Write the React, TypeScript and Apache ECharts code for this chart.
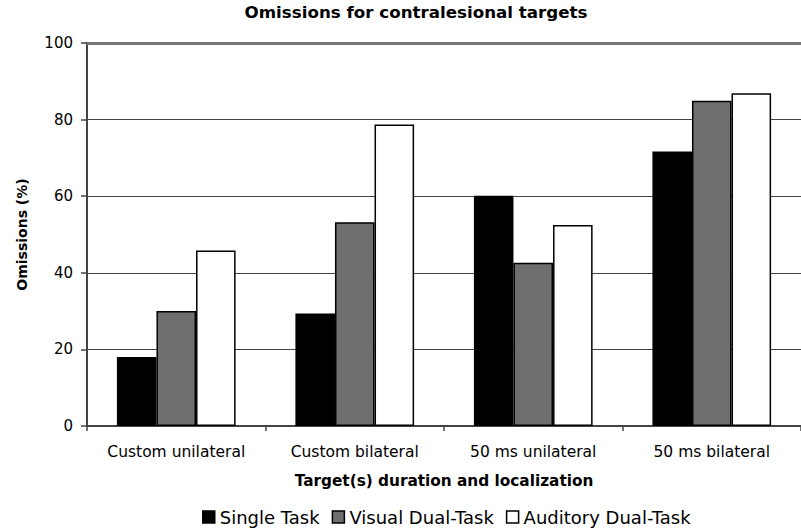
import React, { useEffect, useRef } from "react";
import * as echarts from "echarts";

const categories = ["Custom unilateral", "Custom bilateral", "50 ms unilateral", "50 ms bilateral"];
const seriesNames = ["Single Task", "Visual Dual-Task", "Auditory Dual-Task"];
const singleTask = [18, 29.4, 60.1, 71.7];
const visualDual = [30, 53.2, 42.6, 84.9];
const auditoryDual = [45.8, 78.7, 52.5, 86.9];
const yTicks = { min: 0, max: 100, interval: 20 };
const colors = ["#000000", "#6e6e6e", "#ffffff"];

const FONT = "DejaVu Sans";

export default function App() {
  const ref = useRef<HTMLDivElement>(null);
  useEffect(() => {
    if (!ref.current) return;
    const chart = echarts.init(ref.current, undefined, { renderer: "svg" });
    const values = [singleTask, visualDual, auditoryDual];
    chart.setOption({
      animation: false,
      backgroundColor: "#ffffff",
      textStyle: { fontFamily: FONT },
      graphic: [
        {
          type: "text",
          x: 416,
          y: 12,
          style: {
            text: "Omissions for contralesional targets",
            fontFamily: FONT,
            fontWeight: "bold",
            fontSize: 16.7,
            fill: "#000",
            textAlign: "center",
            textVerticalAlign: "middle",
          },
        },
      ],
      legend: {
        top: 508,
        left: 202,
        padding: 0,
        itemWidth: 12,
        itemHeight: 12,
        itemGap: 12,
        textStyle: { fontFamily: FONT, fontSize: 18, color: "#000" },
        data: seriesNames.map((n) => ({ name: n, icon: "rect", itemStyle: { borderColor: "#000", borderWidth: 1.5 } })),
      },
      grid: { left: 87, top: 43, right: -8, bottom: 105, containLabel: false },
      xAxis: [
        {
          type: "category",
          data: categories,
          name: "Target(s) duration and localization",
          nameLocation: "middle",
          nameGap: 47,
          nameTextStyle: { fontFamily: FONT, fontWeight: "bold", fontSize: 15.3, color: "#000" },
          axisLine: { lineStyle: { color: "#444", width: 2 } },
          axisTick: { show: true, length: 5, lineStyle: { color: "#444", width: 1.5 }, alignWithLabel: false },
          axisLabel: { fontFamily: FONT, fontSize: 15.5, color: "#000", margin: 18, interval: 0, hideOverlap: false },
          splitLine: { show: false },
        },
        {
          type: "category",
          position: "top",
          data: categories,
          axisLine: { lineStyle: { color: "#777", width: 3 } },
          axisTick: { show: false },
          axisLabel: { show: false },
        },
      ],
      yAxis: {
        type: "value",
        min: yTicks.min,
        max: yTicks.max,
        interval: yTicks.interval,
        name: "Omissions (%)",
        nameLocation: "middle",
        nameGap: 58,
        nameTextStyle: { fontFamily: FONT, fontWeight: "bold", fontSize: 14, color: "#000" },
        axisLine: { show: true, lineStyle: { color: "#444", width: 2 } },
        axisTick: { show: true, length: 6, lineStyle: { color: "#444", width: 1.5 } },
        axisLabel: { fontFamily: FONT, fontSize: 15, color: "#000", margin: 14 },
        splitLine: { show: true, lineStyle: { color: "#444", width: 1 } },
      },
      series: seriesNames.map((name, i) => ({
        name,
        type: "bar",
        data: values[i],
        barGap: "0%",
        barCategoryGap: "33.5%",
        itemStyle: { color: colors[i], borderColor: "#000", borderWidth: 1.5 },
      })),
    });
    return () => chart.dispose();
  }, []);
  return (
    <div
      ref={ref}
      style={{ position: "fixed", left: 0, top: 0, width: 801, height: 531 }}
    />
  );
}
